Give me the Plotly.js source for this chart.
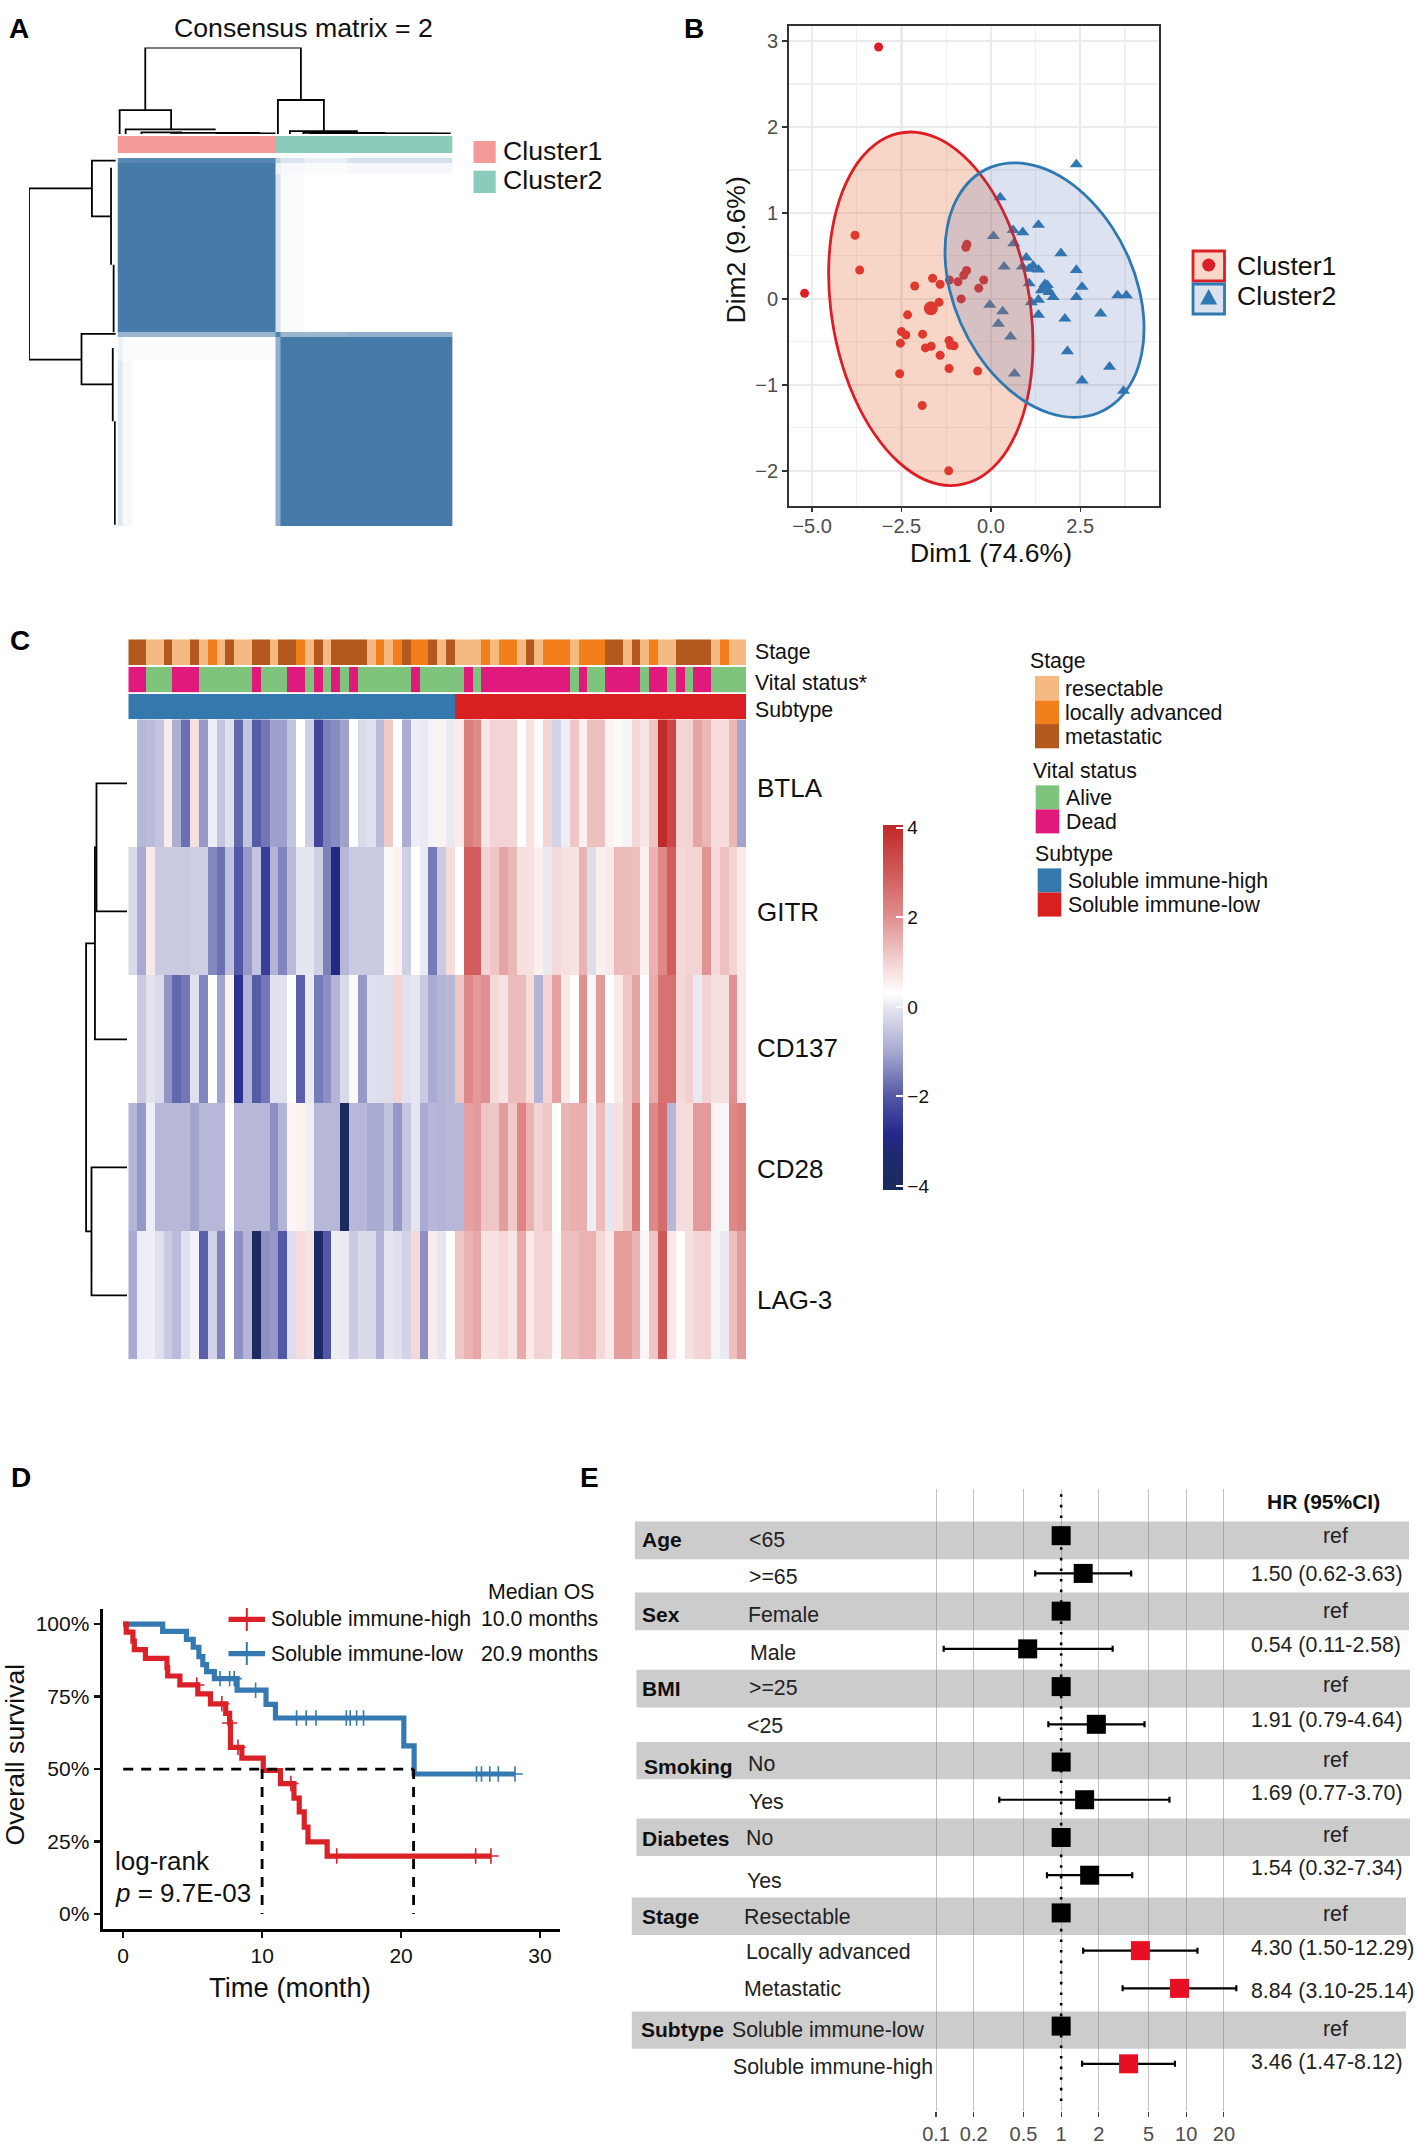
<!DOCTYPE html>
<html><head><meta charset="utf-8">
<script src="https://cdn.plot.ly/plotly-3.0.1.min.js"></script>
<style>html,body{margin:0;padding:0;background:#fff}#g{width:1417px;height:2146px}</style>
</head><body><div id="g"></div>
<script>
// ---------- Panel A : consensus matrix ----------
const consensusXEdges = [0,1,3,33,34,39,48,70];
const consensusYEdges = [0,1,3,33,34,38.5,70];
const consensusZ = [
 [0.88,0.9,0.92,0.35,0.2,0.12,0.22],
 [1,1,1,0.1,0.05,0.03,0.05],
 [1,1,1,0.22,0.03,0,0],
 [0.55,0.55,0.55,0.95,0.55,0.55,0.6],
 [0.1,0.03,0.02,0.6,1,1,1],
 [0.18,0.05,0,0.6,1,1,1]
];
const clusterNames = ['Cluster1','Cluster2'];
const clusterBarEdges = [0,33,70];
const clusterBarCodes = [0,1];
const dendroTopX = [5.8,5.8,38.3,38.3,null,0.45,0.45,11.2,11.2,null,1.7,1.7,20.5,null,5,5,13.5,null,11,29.8,null,20.5,33,null,33.5,33.5,43.1,43.1,null,36,36,50.2,null,38.8,38.8,56,null,50.2,69.6,null,40,66];
const dendroTopH = [0.277,1,1,0.393,null,0,0.277,0.277,0.054,null,0,0.054,0.054,null,0,0.018,0.018,null,0.012,0.012,null,0.006,0.006,null,0,0.393,0.393,0.033,null,0,0.033,0.033,null,0,0.012,0.012,null,0.006,0.006,null,0.003,0.003];
const dendroLeftH = [0.275,1,1,0.395,null,0,0.275,0.275,0.055,null,0.055,0.055,null,0.025,0.025,null,0,0.395,0.395,0.035,null,0.035,0.035,null,0.01,0.01];
const dendroLeftY = [5.77,5.77,38.3,38.3,null,0.48,0.48,11.1,11.1,null,1.83,20.3,null,20.3,33.1,null,33.4,33.4,43,43,null,36.1,50,null,50,69.7];

// ---------- Panel B : PCA ----------
const c1X = [-3.14,-3.80,-3.67,-5.21,-2.13,-1.63,-1.42,-1.16,-0.92,-0.76,-0.68,-0.70,-0.67,-0.20,-0.34,-0.83,-1.45,-2.33,-2.50,-2.38,-2.53,-1.91,-1.83,-1.67,-1.17,-1.13,-1.03,-1.42,-1.17,-0.37,-2.55,-1.92,-1.18];
const c1Y = [2.93,0.74,0.335,0.065,0.15,0.24,0.17,0.22,0.20,0.275,0.33,0.60,0.635,0.22,0.125,0.0,-0.04,-0.185,-0.38,-0.42,-0.515,-0.41,-0.57,-0.55,-0.485,-0.54,-0.545,-0.655,-0.81,-0.84,-0.87,-1.24,-2.0];
const c2X = [2.39,0.26,0.62,0.89,1.33,0.07,0.64,0.99,1.96,0.37,0.88,1.07,1.18,1.33,2.39,1.07,2.55,1.51,1.58,1.43,1.63,1.74,1.33,2.39,3.55,3.79,1.13,-0.03,0.33,1.33,2.07,3.07,0.21,0.55,2.14,3.32,0.66,2.55,3.71];
const c2Y = [1.565,1.18,0.80,0.775,0.86,0.73,0.645,0.48,0.53,0.375,0.375,0.35,0.385,0.34,0.335,0.18,0.14,0.17,0.16,0.10,0.08,0.02,-0.01,0.02,0.04,0.04,-0.04,-0.07,-0.145,-0.185,-0.23,-0.17,-0.29,-0.44,-0.61,-0.79,-0.87,-0.95,-1.07];
const c1Center = [-1.68,-0.11];
const c2Center = [1.51,0.12];
const ell1X = [1.12,1.172,1.028,0.70,0.21,-0.408,-1.114,-1.858,-2.59,-3.26,-3.822,-4.238,-4.48,-4.532,-4.388,-4.06,-3.57,-2.952,-2.246,-1.502,-0.77,-0.10,0.462,0.878,1.12];
const ell1Y = [-0.115,-0.648,-1.144,-1.569,-1.896,-2.102,-2.172,-2.102,-1.896,-1.569,-1.144,-0.648,-0.115,0.418,0.914,1.339,1.666,1.872,1.942,1.872,1.666,1.339,0.914,0.418,-0.115];
const ell2X = [4.153,4.281,4.217,3.97,3.554,2.998,2.34,1.624,0.90,0.218,-0.377,-0.845,-1.153,-1.281,-1.217,-0.97,-0.554,0.002,0.66,1.376,2.10,2.782,3.377,3.845,4.153];
const ell2Y = [0.103,-0.28,-0.637,-0.943,-1.179,-1.327,-1.377,-1.327,-1.179,-0.943,-0.637,-0.28,0.103,0.486,0.843,1.149,1.385,1.533,1.583,1.533,1.385,1.149,0.843,0.486,0.103];
const pcaXTicks = [-5,-2.5,0,2.5];
const pcaYTicks = [-2,-1,0,1,2,3];

// ---------- Panel C : heatmap ----------
const genes = ['BTLA','GITR','CD137','CD28','LAG-3'];
const stageCodes = [2,2,0,0,2,0,0,2,0,1, 0,2,0,0,2,2,0,2,2,1, 0,2,0,2,2,2,2,0,1,0, 1,2,1,1,2,0,2,0,0,0, 1,0,1,1,0,2,0,1,1,1, 0,1,1,1,2,2,0,2,0,1, 0,0,2,2,2,2,0,1,0,0];
const vitalCodes = [1,1,0,0,0,1,1,1,0,0, 0,0,0,0,1,0,0,0,1,1, 0,1,0,1,0,1,0,0,0,0, 0,0,1,0,0,0,0,0,1,0, 1,1,1,1,1,1,1,1,1,1, 0,1,0,0,1,1,1,1,0,1, 1,0,1,0,1,1,0,0,0,0];
const subtypeCodes = [0,0,0,0,0,0,0,0,0,0, 0,0,0,0,0,0,0,0,0,0, 0,0,0,0,0,0,0,0,0,0, 0,0,0,0,0,0,0, 1,1,1, 1,1,1,1,1,1,1,1,1,1, 1,1,1,1,1,1,1,1,1,1, 1,1,1,1,1,1,1,1,1,1];
const btla = [0.3,-0.75,-0.7,-0.55,0.6,-0.9,-1.7,0.8,-1.2,0.1, -0.55,-0.1,-1.8,-0.55,-1.95,-1.6,-1.1,-1.1,-0.55,0.3, -0.35,-2.3,-1.5,-1.35,-1.1,0.3,-0.2,-0.1,-0.7,1.15, 0.3,-0.9,0.1,0.05,0.15,0.5,0.05,0.6,2.35,2.1, 0.7,1,1,1,0.3,0.8,0.4,1,-0.3,0.1, 1.2,0.55,1.3,1.3,0.5,0.4,0.15,0.95,0.7,1.2, 4,3.4,1,1,1.7,1.4,0.85,0.85,1.4,-1.05];
const gitr = [-0.2,-0.95,0.65,-0.45,-0.45,-0.45,-0.45,-0.4,-0.4,-1.4, -1.7,-0.6,-2,-1.2,-0.55,-2.45,-0.8,-1.45,-0.7,0, 0,-0.35,-1.5,-3,-0.75,-0.45,-0.45,-0.45,-0.45,0.4, 0.5,-0.35,0.3,0.05,-1.55,-0.45,0.85,0.3,2.95,2.95, 1,1.2,1.7,1.4,0.8,0.8,0.55,0.05,0.9,0.8, 0.75,1.5,-0.15,0.55,0.65,1.35,1.35,1.3,0.55,1.5, 2.15,2.95,0.9,1,1,1.95,0.9,1.25,1,0.65];
const cd137 = [0.3,-0.45,-0.05,-0.2,-1.25,-1.8,-1.6,-0.1,-1.45,0.3, -1.05,0.5,-2.65,-0.8,-1.95,-1.6,-0.1,-0.1,0.3,-1.9, 0.05,-1.55,-1.3,-0.8,-0.2,0.4,-1.2,-0.1,-0.15,-0.15, 1,-0.1,0,-0.45,-0.95,-0.8,-0.75,1.2,2.15,1.85, 2,0.9,0.75,1.35,1.35,0.85,-0.8,1,1.75,0.65, 0.3,2,0.45,1.85,0.35,0.65,1.2,1.7,0.3,1.6, 2.55,2.55,0.9,1.05,0.05,1,0.8,0.8,2,0.65];
const cd28 = [-0.8,-1.2,0.1,-0.75,-0.75,-0.75,-0.75,-1.05,-0.75,-0.75, -0.75,0.35,-0.75,-0.75,-0.75,-0.75,-1.3,-0.8,0.45,0.5, 0.1,-0.75,-0.75,-0.75,-3.9,-0.75,-0.75,-0.95,-0.95,-0.55, -1.2,-0.5,0,-0.95,-0.75,-0.8,-0.75,-0.75,1.75,1.85, 1.2,1.2,1.8,1.15,2.2,1.5,1,1.2,0.3,1.45, 1.55,1.55,0.1,1.35,0,0.8,1.2,2.4,0.3,2.15, 2.65,-0.75,0.85,0.85,1.85,1.85,0.5,0.2,2.15,2.3];
const lag3 = [-0.95,0.1,0.1,-0.1,-0.45,-0.7,-0.1,0.15,-1.9,-0.3, -1.45,0.3,-1.3,-0.8,-3.9,-1.3,-1.2,-2,-0.15,0.85, 0.75,-3.6,-2,0.1,0.05,-0.45,-0.2,-0.2,-0.8,0, -0.1,-0.3,0.9,-1.3,0.6,0,0.3,1.2,1.5,1.65, 0.75,0.75,0.9,0.7,1.6,0.65,1,1,0.4,1.3, 1.3,1.5,1.5,0.9,0.65,1.8,1.8,1.45,0.45,1.2, 3,0.65,0.35,0.8,0.95,1,0.15,0.05,1.3,1.8];
const heatStops = [[-4.08,'#1b2a5c'],[-3.3,'#1e2a6e'],[-2.8,'#25298c'],[-2,'#5257a6'],[-1,'#a7a8d0'],[0,'#e6e6f1'],[0.3,'#ffffff'],[1,'#f3d3d3'],[2,'#e09090'],[3,'#d05a5a'],[4,'#c22b2b'],[4.07,'#c22b2b']];
const heatTicks = [-4,-2,0,2,4];
const dendroCH = [0,1,1,0,null,1,1.05,1.05,0,null,1.05,1.34,1.34,1.164,null,0,1.164,1.164,0];
const dendroCY = [0.5,0.5,1.5,1.5,null,1,1,2.5,2.5,null,1.75,1.75,4,4,null,3.5,3.5,4.5,4.5];
const stageNames = ['resectable','locally advanced','metastatic'];
const vitalNames = ['Alive','Dead'];
const subtypeNames = ['Soluble immune-high','Soluble immune-low'];

// ---------- Panel D : Kaplan-Meier ----------
const kmHighT = [0,0.22,0.7,0.8,1.6,3.15,3.2,4.08,5.37,6.28,7.38,7.66,7.72,8.54,10.08,11.32,12.29,12.67,13.03,13.3,14.68,26.5];
const kmHighS = [100,97.2,94.1,91.2,88.2,85,82.1,79,75.9,72.5,69.2,65.9,57.5,53.8,49.5,45,40,35.2,30,24.9,20,20];
const kmLowT = [0,2.84,4.55,5.04,5.45,5.73,6,6.56,8.2,10.28,10.96,20.2,20.94,28.2];
const kmLowS = [100,97.5,94.7,92,88.8,86,83.6,81.2,77.2,72.3,67.6,58,48.3,48.3];
const censorHighT = [5.3,7.1,7.66,8.26,12.07,15.37,25.37,26.47];
const censorHighS = [79,72.5,65.9,57.5,45,20,20,20];
const censorLowT = [6.97,7.66,7.99,9.53,12.48,13.17,13.88,16.06,16.34,16.8,17.3,25.43,25.79,26.39,27,28.2];
const censorLowS = [81.2,81.2,81.2,77.2,67.6,67.6,67.6,67.6,67.6,67.6,67.6,48.3,48.3,48.3,48.3,48.3];
const medianLineT = [0,20.9,null,10,10,null,20.9,20.9];
const medianLineS = [50,50,null,50,0,null,50,0];
const kmXTicks = [0,10,20,30];
const kmYTicks = [0,25,50,75,100];
const kmYTickText = ['0%','25%','50%','75%','100%'];

// ---------- Panel E : forest plot ----------
const forestRows = [0,1,2,3,4,5,6,7,8,9,10,11,12,13,14];
const forestHR = [1,1.5,1,0.54,1,1.91,1,1.54,1,1.69,1,4.3,8.84,1,3.46];
const forestLo = [1,0.62,1,0.115,1,0.79,1,0.32,1,0.77,1,1.5,3.1,1,1.47];
const forestHi = [1,3.63,1,2.58,1,4.64,1,7.34,1,3.7,1,12.29,25.14,1,8.12];
const forestSig = [0,0,0,0,0,0,0,0,0,0,0,1,1,0,1];
const forestTicks = [0.1,0.2,0.5,1,2,5,10,20];
const forestTickText = ['0.1','0.2','0.5','1','2','5','10','20'];

// ---------- layout helpers ----------
const W = 1417, H = 2146;
const FONT = '"Liberation Sans", Arial, sans-serif';
const dX = (a,b)=>[a/W,b/W];
const dY = (top,bot)=>[1-bot/H,1-top/H];
const annotations = [], shapes = [];
function txt(text,x,y,size,o={}){
  const anchor=o.anchor||'left';
  annotations.push({text,x:(anchor==='left'?x-1.2:x)/W,y:1-y/H,xref:'paper',yref:'paper',xanchor:anchor,yanchor:'middle',showarrow:false,borderpad:0,
    textangle:o.angle||0,font:{family:o.family||FONT,size,color:o.color||'#111'}});
}
function rect(x0,y0,x1,y1,fill,line,lw){
  shapes.push({type:'rect',xref:'paper',yref:'paper',x0:x0/W,x1:x1/W,y0:1-y0/H,y1:1-y1/H,fillcolor:fill,layer:'below',line:{width:lw||0,color:line||fill}});
}
function seg(x0,y0,x1,y1,color,w){
  shapes.push({type:'line',xref:'paper',yref:'paper',x0:x0/W,x1:x1/W,y0:1-y0/H,y1:1-y1/H,line:{color,width:w}});
}
const hidden = (domain,range,anchor)=>({domain,range,anchor,visible:false,fixedrange:true});

const layout = {width:W,height:H,margin:{l:0,r:0,t:0,b:0},paper_bgcolor:'#fff',plot_bgcolor:'rgba(0,0,0,0)',showlegend:false,font:{family:FONT}};
const data = [];

// Panel letters
[['A',9.5,29],['B',684.5,29],['C',10.5,640],['D',11,1477],['E',580,1477]].forEach(a=>txt('<b>'+a[0]+'</b>',a[1],a[2],28,{color:'#000'}));

// ---------- A ----------
const AL=117.5,AR=452.7;
layout.xaxis = hidden(dX(AL,AR),[0,70],'y');
layout.yaxis = hidden(dY(158,526.4),[70,0],'x');
data.push({type:'heatmap',x:consensusXEdges,y:consensusYEdges,z:consensusZ,zmin:0,zmax:1,showscale:false,xaxis:'x',yaxis:'y',
  colorscale:[[0,'#ffffff'],[1,'#467aa9']],hoverinfo:'skip'});
layout.xaxis2 = hidden(dX(AL,AR),[0,70],'y2');
layout.yaxis2 = hidden(dY(136,153),[0,1],'x2');
data.push({type:'heatmap',x:clusterBarEdges,y:[0,1],z:[clusterBarCodes],zmin:0,zmax:1,showscale:false,xaxis:'x2',yaxis:'y2',
  colorscale:[[0,'#f49a98'],[0.5,'#f49a98'],[0.5,'#8acbbb'],[1,'#8acbbb']],hoverinfo:'skip'});
layout.xaxis3 = hidden(dX(AL,AR),[0,70],'y3');
layout.yaxis3 = hidden(dY(47.5,134),[0,1],'x3');
data.push({type:'scatter',mode:'lines',x:dendroTopX,y:dendroTopH,xaxis:'x3',yaxis:'y3',cliponaxis:false,line:{color:'#000',width:1.8},hoverinfo:'skip'});
layout.xaxis4 = hidden(dX(29,115.8),[1,0],'y4');
layout.yaxis4 = hidden(dY(158,526.4),[70,0],'x4');
data.push({type:'scatter',mode:'lines',x:dendroLeftH,y:dendroLeftY,xaxis:'x4',yaxis:'y4',cliponaxis:false,line:{color:'#000',width:1.8},hoverinfo:'skip'});
txt('Consensus matrix = 2',303.5,28.5,26.7,{anchor:'center'});
rect(473.5,141,495.7,163,'#f49a98');
rect(473.5,170.7,495.7,193,'#8acbbb');
txt(clusterNames[0],503,151,26.7);
txt(clusterNames[1],503,180,26.7);

// ---------- B ----------
layout.xaxis5 = {domain:dX(788.6,1159.3),range:[-5.657,4.71],anchor:'y5',tickmode:'array',tickvals:pcaXTicks,tickformat:'.1f',
  ticks:'outside',ticklen:4,tickwidth:1.5,tickcolor:'#333',tickfont:{size:20,color:'#4d4d4d'},ticklabelstandoff:-3,showline:true,mirror:true,linecolor:'#333',linewidth:1.5,
  showgrid:true,gridcolor:'#ebebeb',gridwidth:2.2,zeroline:false,
  minor:{tickmode:'array',tickvals:[-3.75,-1.25,1.25,3.75],showgrid:true,gridcolor:'#f0f0f0',gridwidth:1.1,ticks:''}};
layout.yaxis5 = {domain:dY(25.9,506),range:[-2.409,3.176],anchor:'x5',tickmode:'array',tickvals:pcaYTicks,tickformat:'d',
  ticks:'outside',ticklen:5,tickwidth:1.5,tickcolor:'#333',tickfont:{size:20,color:'#4d4d4d'},showline:true,mirror:true,linecolor:'#333',linewidth:1.5,
  showgrid:true,gridcolor:'#ebebeb',gridwidth:2.2,zeroline:false,
  minor:{tickmode:'array',tickvals:[-1.5,-0.5,0.5,1.5,2.5],showgrid:true,gridcolor:'#f0f0f0',gridwidth:1.1,ticks:''}};
txt('Dim1 (74.6%)',991,552.5,26.5,{anchor:'center'});
txt('Dim2 (9.6%)',735.5,250,26.5,{anchor:'center',angle:-90});
const RED='#dc1f26', BLUE='#2f79b2';
data.push({type:'scatter',mode:'markers',x:c1X,y:c1Y,xaxis:'x5',yaxis:'y5',marker:{color:RED,size:9,symbol:'circle'},hoverinfo:'skip'});
data.push({type:'scatter',mode:'markers',x:[c1Center[0]],y:[c1Center[1]],xaxis:'x5',yaxis:'y5',marker:{color:RED,size:14,symbol:'circle'},hoverinfo:'skip'});
data.push({type:'scatter',mode:'markers',x:c2X,y:c2Y,xaxis:'x5',yaxis:'y5',marker:{color:BLUE,size:11.5,symbol:'triangle-up'},hoverinfo:'skip'});
data.push({type:'scatter',mode:'markers',x:[c2Center[0]],y:[c2Center[1]],xaxis:'x5',yaxis:'y5',marker:{color:BLUE,size:17,symbol:'triangle-up'},hoverinfo:'skip'});
data.push({type:'scatter',mode:'lines',x:ell1X,y:ell1Y,xaxis:'x5',yaxis:'y5',fill:'toself',fillcolor:'rgba(232,120,70,0.30)',line:{color:'#dc1f26',width:2.8,shape:'spline',smoothing:1},hoverinfo:'skip'});
data.push({type:'scatter',mode:'lines',x:ell2X,y:ell2Y,xaxis:'x5',yaxis:'y5',fill:'toself',fillcolor:'rgba(60,95,165,0.18)',line:{color:'#2f79b2',width:2.8,shape:'spline',smoothing:1},hoverinfo:'skip'});
rect(1193,251,1224.5,281,'#f8d6c8',RED,2.8);
rect(1193,284,1224.5,314,'#dbe2ee',BLUE,2.8);
shapes.push({type:'circle',xref:'paper',yref:'paper',x0:(1208.7-6.5)/W,x1:(1208.7+6.5)/W,y0:1-(265-6.5)/H,y1:1-(265+6.5)/H,fillcolor:RED,line:{width:0}});
shapes.push({type:'path',xref:'paper',yref:'paper',path:`M ${(1208.7-8.5)/W} ${1-304.5/H} L ${(1208.7+8.5)/W} ${1-304.5/H} L ${1208.7/W} ${1-289/H} Z`,fillcolor:BLUE,line:{width:0}});
txt(clusterNames[0],1237,265.5,26.7);
txt(clusterNames[1],1237,296,26.7);

// ---------- C ----------
const CL=128.3,CR=746;
const cols = stageCodes.map((_,i)=>i);
const addBar=(n,top,bot,codes,cs,zmax)=>{
  layout['xaxis'+n]=hidden(dX(CL,CR),[-0.5,69.5],'y'+n);
  layout['yaxis'+n]=hidden(dY(top,bot),[-0.5,0.5],'x'+n);
  data.push({type:'heatmap',x:cols,y:[0],z:[codes],zmin:0,zmax,showscale:false,xaxis:'x'+n,yaxis:'y'+n,colorscale:cs,hoverinfo:'skip'});
};
const STAGEC=['#f5ba82','#f37f1c','#b4591e'], VITALC=['#7fc47c','#e0197d'], SUBC=['#3478ae','#da1f20'];
const third=1/3;
addBar(6,639.3,665,stageCodes,[[0,STAGEC[0]],[third,STAGEC[0]],[third,STAGEC[1]],[2*third,STAGEC[1]],[2*third,STAGEC[2]],[1,STAGEC[2]]],2);
addBar(7,666.7,692.3,vitalCodes,[[0,VITALC[0]],[0.5,VITALC[0]],[0.5,VITALC[1]],[1,VITALC[1]]],1);
addBar(8,694,719.3,subtypeCodes,[[0,SUBC[0]],[0.5,SUBC[0]],[0.5,SUBC[1]],[1,SUBC[1]]],1);
layout.xaxis9=hidden(dX(CL,CR),[-0.5,69.5],'y9');
layout.yaxis9=hidden(dY(719.3,1359.3),[4.5,-0.5],'x9');
const zLo=heatStops[0][0], zHi=heatStops[heatStops.length-1][0];
data.push({type:'heatmap',x:cols,y:[0,1,2,3,4],z:[btla,gitr,cd137,cd28,lag3],zmin:zLo,zmax:zHi,xaxis:'x9',yaxis:'y9',hoverinfo:'skip',
  colorscale:heatStops.map(s=>[(s[0]-zLo)/(zHi-zLo),s[1]]),showscale:true,
  colorbar:{x:883/W,xanchor:'left',y:1-1007.1/H,yanchor:'middle',len:364.8,lenmode:'pixels',thickness:20,thicknessmode:'pixels',outlinewidth:0,xpad:0,ypad:0,
    tickmode:'array',tickvals:heatTicks,ticks:'inside',ticklen:7,tickwidth:2,tickcolor:'#fff',tickfont:{size:19,color:'#111'}}});
heatTicks.forEach(t=>{const y=1007.1-(t-(zLo+zHi)/2)*44.7;seg(883,y,890,y,'#fff',2);});
layout.xaxis10=hidden(dX(80,127),[1.54,0],'y10');
layout.yaxis10=hidden(dY(719.3,1359.3),[5,0],'x10');
data.push({type:'scatter',mode:'lines',x:dendroCH,y:dendroCY,xaxis:'x10',yaxis:'y10',cliponaxis:false,line:{color:'#000',width:1.8},hoverinfo:'skip'});
txt('Stage',755,651.7,21.3);
txt('Vital status*',755,683,21.3);
txt('Subtype',755,710.3,21.3);
[788.4,911.6,1047.8,1169,1300].forEach((y,i)=>txt(genes[i],757,y,26));
txt('Stage',1030,661,21.3);
[675.9,700.4,724.1].forEach((y,i)=>{rect(1035,y,1059,y+24.2,STAGEC[i]);txt(stageNames[i],1065,[688.9,712.6,736.8][i],21.3);});
txt('Vital status',1032.8,771,21.3);
[785.3,809.4].forEach((y,i)=>{rect(1035.7,y,1059.3,y+24,VITALC[i]);txt(vitalNames[i],1065.8,[797.6,822][i],21.3);});
txt('Subtype',1035.3,854.2,21.3);
[868.4,892.5].forEach((y,i)=>{rect(1037.7,y,1061.3,y+24.1,SUBC[i]);txt(subtypeNames[i],1067.8,[881,905][i],21.3);});

// ---------- D ----------
layout.xaxis11={domain:dX(102.6,560),range:[-1.483,31.44],anchor:'y11',tickmode:'array',tickvals:kmXTicks,ticks:'outside',ticklen:6,tickwidth:2.5,tickcolor:'#111',
  tickfont:{size:21,color:'#111'},showline:true,linecolor:'#000',linewidth:3,showgrid:false,zeroline:false};
layout.yaxis11={domain:dY(1609,1928.6),range:[-5.03,105.2],anchor:'x11',tickmode:'array',tickvals:kmYTicks,ticktext:kmYTickText,ticks:'outside',ticklen:6,tickwidth:2.5,tickcolor:'#111',
  tickfont:{size:21,color:'#111'},showline:true,linecolor:'#000',linewidth:3,showgrid:false,zeroline:false};
txt('Time (month)',289.7,1987.5,27.4,{anchor:'center'});
txt('Overall survival',14.5,1755,26.6,{anchor:'center',angle:-90});
const KR='#da2128',KB='#3579b1';
data.push({type:'scatter',mode:'lines',x:kmLowT,y:kmLowS,xaxis:'x11',yaxis:'y11',line:{color:KB,width:5.2,shape:'hv'},hoverinfo:'skip'});
data.push({type:'scatter',mode:'lines',x:kmHighT,y:kmHighS,xaxis:'x11',yaxis:'y11',line:{color:KR,width:5.2,shape:'hv'},hoverinfo:'skip'});
data.push({type:'scatter',mode:'markers',x:censorLowT,y:censorLowS,xaxis:'x11',yaxis:'y11',marker:{symbol:'cross-thin',size:11,color:KB,line:{width:1.6,color:KB}},hoverinfo:'skip'});
data.push({type:'scatter',mode:'markers',x:censorHighT,y:censorHighS,xaxis:'x11',yaxis:'y11',marker:{symbol:'cross-thin',size:11,color:KR,line:{width:1.6,color:KR}},hoverinfo:'skip'});
data.push({type:'scatter',mode:'lines',x:medianLineT,y:medianLineS,xaxis:'x11',yaxis:'y11',line:{color:'#000',width:2.8,dash:'10px,8px'},hoverinfo:'skip'});
seg(228.5,1619.3,265,1619.3,KR,5.2);seg(246.8,1608,246.8,1631,KR,2);
seg(228.5,1653.6,265,1653.6,KB,5.2);seg(246.8,1642,246.8,1665,KB,2);
txt(subtypeNames[0],271,1619.3,21.3);
txt(subtypeNames[1],271,1653.6,21.3);
txt('Median OS',488,1592,21.3);
txt('10.0 months',481,1619.3,21.3);
txt('20.9 months',481,1653.6,21.3);
txt('log-rank',115.6,1861,26);
txt('<i>p</i> = 9.7E-03',115.6,1893,26);

// ---------- E ----------
layout.xaxis12={domain:dX(934.85,1245.9),type:'log',range:[-1.01,1.477],anchor:'y12',tickmode:'array',tickvals:forestTicks,ticktext:forestTickText,ticks:'outside',ticklen:5,tickwidth:1.2,tickcolor:'#444',
  tickfont:{size:20,color:'#4d4d4d'},showline:false,showgrid:true,gridcolor:'rgba(120,120,120,0.45)',gridwidth:1,zeroline:false};
layout.yaxis12={domain:dY(1489,2111),range:[15.251,-1.238],anchor:'x12',visible:false};
[[634.9,1409,1521.5,1559.2],[634.9,1409,1592.5,1630.2],[636.5,1410,1669.7,1707.4],[636.5,1410,1742,1779.3],[636.5,1410,1818.4,1856],[631.8,1406,1897.4,1935],[631.8,1406,2011.5,2048.8]]
  .forEach(b=>rect(b[0],b[2],b[1],b[3],'#cdcccc'));
data.push({type:'scatter',mode:'lines',x:[1,1],y:[-1.1,15.2],xaxis:'x12',yaxis:'y12',line:{color:'#000',width:2.6,dash:'2.6px,8px'},hoverinfo:'skip'});
data.push({type:'scatter',mode:'markers',x:forestHR,y:forestRows,xaxis:'x12',yaxis:'y12',cliponaxis:false,hoverinfo:'skip',
  marker:{symbol:'square',size:19,color:forestSig.map(s=>s?'#e60f24':'#000')},
  error_x:{type:'data',symmetric:false,array:forestHi.map((h,i)=>h-forestHR[i]),arrayminus:forestLo.map((l,i)=>forestHR[i]-l),color:'#000',thickness:2.2,width:3}});
[['Age',642,1539.7],['Sex',641.7,1614.7],['BMI',641.7,1688.4],['Smoking',644,1766],['Diabetes',642,1838],['Stage',641.7,1916.5],['Subtype',641,2029.7]]
  .forEach(g=>txt('<b>'+g[0]+'</b>',g[1],g[2],21,{color:'#111'}));
[['<65',749.5,1539.7],['>=65',749.5,1576.5],['Female',748.5,1614.7],['Male',750.6,1653.3],['>=25',749,1688.4],['<25',747.5,1725.6],['No',748,1764],['Yes',749.5,1802],['No',746.4,1838],['Yes',747.5,1881],['Resectable',744.3,1916.5],['Locally advanced',746.4,1952],['Metastatic',743.8,1988.8],['Soluble immune-low',731.8,2029.7],['Soluble immune-high',732.9,2067]]
  .forEach(g=>txt(g[0].replace('<','&lt;').replace('>','&gt;'),g[1],g[2],21.3,{color:'#222'}));
txt('<b>HR (95%CI)</b>',1267.5,1501,21,{color:'#111'});
[['ref',1535.7],['ref',1610.7],['ref',1685],['ref',1760],['ref',1835.3],['ref',1913.8],['ref',2029.2]].forEach(r=>txt(r[0],1335,r[1],21.3,{anchor:'center',color:'#222'}));
[['1.50 (0.62-3.63)',1573.8],['0.54 (0.11-2.58)',1644.8],['1.91 (0.79-4.64)',1720.3],['1.69 (0.77-3.70)',1792.7],['1.54 (0.32-7.34)',1867.7],['4.30 (1.50-12.29)',1948],['8.84 (3.10-25.14)',1990.6],['3.46 (1.47-8.12)',2062]]
  .forEach(r=>txt(r[0],1251,r[1],21.3,{color:'#222'}));

layout.annotations = annotations;
layout.shapes = shapes;
Plotly.newPlot('g',data,layout,{staticPlot:true,displayModeBar:false});
</script></body></html>
